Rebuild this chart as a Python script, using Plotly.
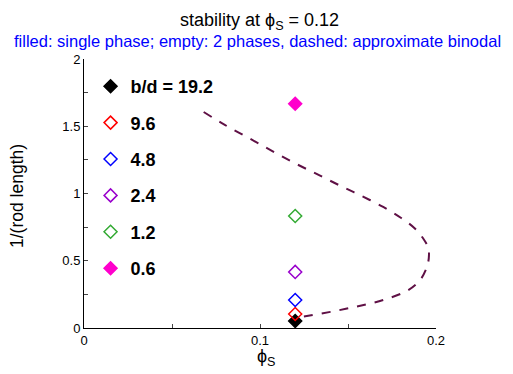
import plotly.graph_objects as go

# data
phi_s = 0.12
bd_labels = ["b/d = 19.2", "9.6", "4.8", "2.4", "1.2", "0.6"]
bd_values = [19.2, 9.6, 4.8, 2.4, 1.2, 0.6]
inv_len = [0.052, 0.104, 0.208, 0.417, 0.833, 1.667]
colors = ["black", "red", "blue", "#9900cc", "#33aa33", "#ff00cc"]
symbols = ["diamond", "diamond-open", "diamond-open", "diamond-open", "diamond-open", "diamond"]

binodal_x = [0.068, 0.080, 0.094, 0.107, 0.120, 0.133, 0.146, 0.158, 0.170, 0.180,
             0.188, 0.193, 0.1955, 0.196, 0.195, 0.191, 0.184, 0.170, 0.155, 0.140, 0.1246, 0.123]
binodal_y = [1.606, 1.51, 1.41, 1.315, 1.224, 1.14, 1.055, 0.98, 0.90, 0.82,
             0.74, 0.66, 0.60, 0.54, 0.46, 0.357, 0.28, 0.208, 0.16, 0.12, 0.084, 0.08]

fig = go.Figure()
fig.add_trace(go.Scatter(x=binodal_x, y=binodal_y, mode="lines", showlegend=False,
                         line=dict(color="#5f1045", width=2, dash="dash", shape="spline")))
for lab, y, c, s in zip(bd_labels, inv_len, colors, symbols):
    fig.add_trace(go.Scatter(x=[phi_s], y=[y], mode="markers", name=lab, legendgroup=lab,
                             marker=dict(symbol=s, color=c, size=10,
                                         line=dict(color=c, width=1.5))))

# the page body adds an 8px offset, so the figure is drawn 8px smaller
OFF = 8
W, H = 513 - OFF, 374 - OFF
L, R, T, B = 84 - OFF, 77, 59 - OFF, 46
pw = W - L - R
ph = H - T - B


def px(xp):
    return (xp - OFF - L) / pw


def py(yp):
    return 1 - (yp - OFF - T) / ph


FONT = "Liberation Sans, Arial, sans-serif"
fig.update_layout(
    width=W, height=H,
    margin=dict(l=L, r=R, t=T, b=B, autoexpand=False),
    plot_bgcolor="white", paper_bgcolor="white",
    font=dict(family=FONT, size=13, color="black"),
    showlegend=True,
    legend=dict(x=0.03 - 4 / pw, y=1 - 9 / ph, xanchor="left", yanchor="top",
                font=dict(size=18, color="black", family=FONT, weight="bold"),
                tracegroupgap=10, itemwidth=30, bgcolor="rgba(0,0,0,0)"),
    xaxis=dict(range=[0, 0.2], tickvals=[0, 0.1, 0.2], ticktext=["0", "0.1", "0.2"],
               ticks="inside", ticklen=4, showline=True, linecolor="black", linewidth=1,
               showgrid=False, zeroline=False, automargin=False,
               minor=dict(tickvals=[0.05, 0.15], ticks="inside", ticklen=4, showgrid=False)),
    yaxis=dict(range=[0, 2], tickvals=[0, 0.5, 1, 1.5, 2], ticktext=["0", "0.5", "1", "1.5", "2"],
               ticks="inside", ticklen=4, showline=True, linecolor="black", linewidth=1,
               showgrid=False, zeroline=False, automargin=False,
               minor=dict(tickvals=[0.25, 0.75, 1.25, 1.75], ticks="inside", ticklen=4, showgrid=False)),
    annotations=[
        dict(text="stability at ϕ<sub>S</sub> = 0.12", xref="paper", yref="paper",
             x=px(259), y=py(8), xanchor="center", yanchor="top",
             showarrow=False, font=dict(size=18, color="black")),
        dict(text="filled: single phase; empty: 2 phases, dashed: approximate binodal",
             xref="paper", yref="paper",
             x=px(257), y=py(41), xanchor="center", yanchor="middle",
             showarrow=False, font=dict(size=16.5, color="blue")),
        dict(text="1/(rod length)", xref="paper", yref="paper", textangle=-90,
             x=px(17), y=py(196), xanchor="center", yanchor="middle",
             showarrow=False, font=dict(size=17.5, color="black")),
        dict(text="ϕ<sub>S</sub>", xref="paper", yref="paper",
             x=px(266), y=py(357), xanchor="center", yanchor="middle",
             showarrow=False, font=dict(size=18, color="black")),
    ],
)

fig.write_html("out.html")
